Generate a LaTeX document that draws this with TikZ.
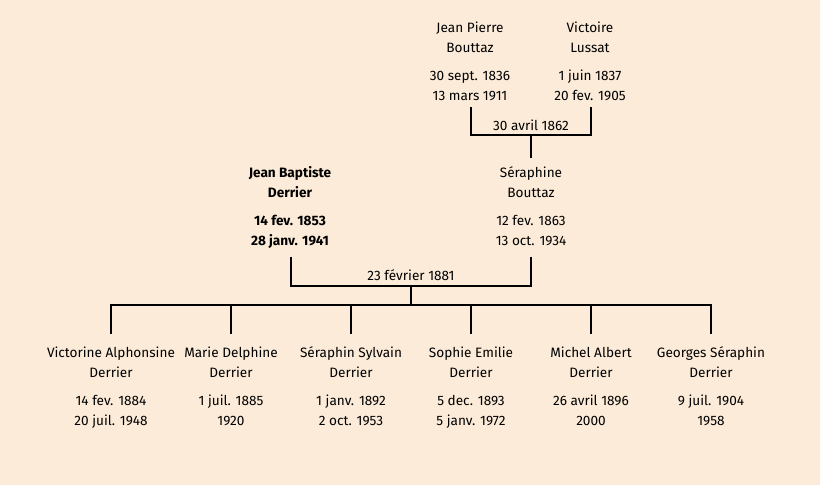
\documentclass[tikz,border=0pt]{standalone}
\usepackage{fontspec}
\setmainfont{Fira Sans}
\definecolor{bg}{HTML}{FCEBD8}
\begin{document}
\begin{tikzpicture}[x=1pt,y=1pt,
  person/.style={anchor=north,inner sep=0pt,align=center,
    font=\fontsize{13.6}{20}\selectfont},
  link/.style={line width=2pt,line cap=rect},
  lbl/.style={inner sep=0pt,font=\fontsize{13.6}{14}\selectfont}]
\fill[bg] (0,0) rectangle (820,485);
\useasboundingbox (0,0) rectangle (820,485);
\newcommand{\toprule}{\rule{0pt}{13pt}}
% generation 1
\node[person] (jp) at (470,466) {\toprule Jean Pierre\\Bouttaz\\[8pt]30 sept. 1836\\13 mars 1911};
\node[person] (vl) at (590,466) {\toprule Victoire\\Lussat\\[8pt]1 juin 1837\\20 fev. 1905};
% generation 2
\node[person,font=\fontsize{13.6}{20}\selectfont\bfseries] (jb) at (290,321) {\toprule Jean Baptiste\\Derrier\\[8pt]14 fev. 1853\\28 janv. 1941};
\node[person] (sb) at (531,321) {\toprule Séraphine\\Bouttaz\\[8pt]12 fev. 1863\\13 oct. 1934};
% generation 3
\node[person] (c1) at (111,141) {\toprule Victorine Alphonsine\\Derrier\\[8pt]14 fev. 1884\\20 juil. 1948};
\node[person] (c2) at (231,141) {\toprule Marie Delphine\\Derrier\\[8pt]1 juil. 1885\\1920};
\node[person] (c3) at (351,141) {\toprule Séraphin Sylvain\\Derrier\\[8pt]1 janv. 1892\\2 oct. 1953};
\node[person] (c4) at (471,141) {\toprule Sophie Emilie\\Derrier\\[8pt]5 dec. 1893\\5 janv. 1972};
\node[person] (c5) at (591,141) {\toprule Michel Albert\\Derrier\\[8pt]26 avril 1896\\2000};
\node[person] (c6) at (711,141) {\toprule Georges Séraphin\\Derrier\\[8pt]9 juil. 1904\\1958};
% marriage 1
\coordinate (m1a) at (471,377);
\coordinate (m1b) at (591,377);
\coordinate (m1l) at (471,350);
\coordinate (m1r) at (591,350);
\coordinate (m1c) at (531,350);
\coordinate (m1d) at (531,328);
\draw[link] (m1a) -- (m1l) -- (m1r) -- (m1b);
\draw[link] (m1c) -- (m1d);
\node[lbl] (d1) at (531,360) {30 avril 1862};
% marriage 2
\coordinate (m2a) at (291,227);
\coordinate (m2b) at (531,227);
\coordinate (m2l) at (291,199);
\coordinate (m2r) at (531,199);
\coordinate (m2c) at (411,199);
\coordinate (m2d) at (411,180);
\draw[link] (m2a) -- (m2l) -- (m2r) -- (m2b);
\draw[link] (m2c) -- (m2d);
\node[lbl] (d2) at (411,210) {23 février 1881};
% children bar
\coordinate (b1) at (111,180);
\coordinate (b6) at (711,180);
\draw[link] (b1) -- (b6);
\foreach \x in {111,231,351,471,591,711}{
  \draw[link] (\x,180) -- (\x,152);
}
\end{tikzpicture}
\end{document}
